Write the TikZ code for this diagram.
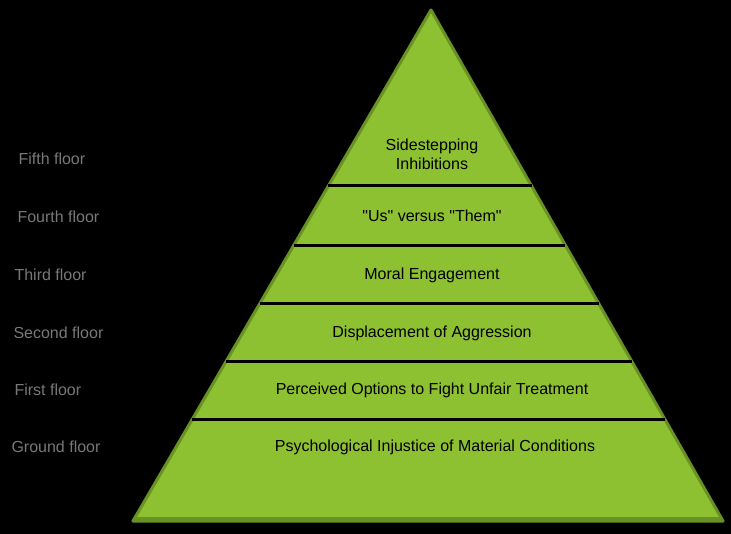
\documentclass[tikz,border=0pt]{standalone}
\usepackage{fontspec}
\setmainfont{Liberation Sans}
\usetikzlibrary{calc}
\definecolor{pyrfill}{RGB}{141,193,50}
\definecolor{pyredge}{RGB}{104,146,36}
\definecolor{floorgray}{RGB}{120,120,120}
\tikzset{
  layertext/.style={font=\fontsize{16}{19}\selectfont, text=black, align=center},
  floorlabel/.style={font=\fontsize{16}{19}\selectfont, text=floorgray, anchor=west},
  divider/.style={draw=black, line width=3pt},
}
\begin{document}
\begin{tikzpicture}[x=1pt,y=-1pt]
\useasboundingbox (0,0) rectangle (731,534);
\fill[black] (0,0) rectangle (731,534);
\coordinate (apex) at (431,10);
\coordinate (bl) at (133,521);
\coordinate (br) at (723,521);
\fill[pyrfill] (apex) -- (bl) -- (br) -- cycle;
\draw[pyredge, line width=3pt, line join=round] (apex) -- (bl) -- (br) -- cycle;
\draw[pyredge, line width=5pt] ($(bl)+(2,-2)$) -- ($(br)+(-2,-2)$);
% dividers
\foreach \t [count=\i] in {0.3444,0.4599,0.5753,0.6888,0.8023}{
  \coordinate (L\i) at ($(apex)!\t!(bl)$);
  \coordinate (R\i) at ($(apex)!\t!(br)$);
  \draw[divider] (L\i) -- (R\i);
}
% layer texts
\node[layertext] (t5) at (432,154) {Sidestepping\\Inhibitions};
\node[layertext] (t4) at (432,216) {\textquotedbl Us\textquotedbl{} versus \textquotedbl Them\textquotedbl};
\node[layertext] (t3) at (432,275) {Moral Engagement};
\node[layertext] (t2) at (432,333) {Displacement of Aggression};
\node[layertext] (t1) at (432,390) {Perceived Options to Fight Unfair Treatment};
\node[layertext] (t0) at (435,447) {Psychological Injustice of Material Conditions};
% floor labels
\node[floorlabel] (f5) at (15,159) {Fifth floor};
\node[floorlabel] (f4) at (14,217) {Fourth floor};
\node[floorlabel] (f3) at (11,275) {Third floor};
\node[floorlabel] (f2) at (10,333) {Second floor};
\node[floorlabel] (f1) at (11,390) {First floor};
\node[floorlabel] (f0) at (8,447) {Ground floor};
\end{tikzpicture}
\end{document}
